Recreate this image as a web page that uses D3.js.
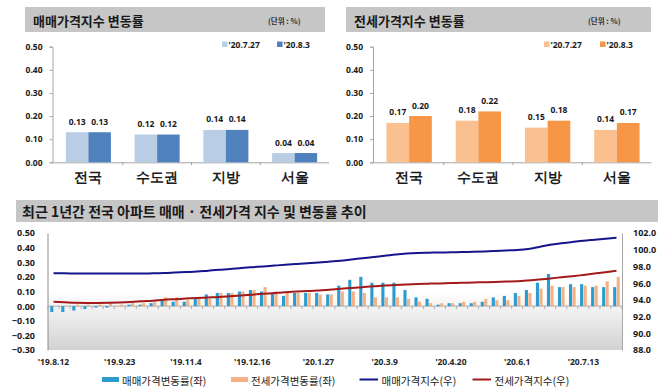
<!DOCTYPE html>
<html><head><meta charset="utf-8">
<script src="https://cdn.jsdelivr.net/npm/d3@7"></script>
<style>
body{margin:0;background:#fff;}
svg{display:block;font-family:"Noto Sans CJK KR","Noto Sans",sans-serif;}
</style></head><body>
<svg id="c" width="658" height="392"></svg>
<script>
// ---------- data ----------
const regions = ["전국","수도권","지방","서울"];
const seriesLabels = ["'20.7.27","'20.8.3"];
const saleRate0727 = [0.13,0.12,0.14,0.04];
const saleRate0803 = [0.13,0.12,0.14,0.04];
const jeonseRate0727 = [0.17,0.18,0.15,0.14];
const jeonseRate0803 = [0.20,0.22,0.18,0.17];
const topTicks = [0,0.1,0.2,0.3,0.4,0.5];

const weeks = ["'19.8.12","'19.8.19","'19.8.26","'19.9.2","'19.9.9","'19.9.16","'19.9.23","'19.9.30","'19.10.7","'19.10.14",
 "'19.10.21","'19.10.28","'19.11.4","'19.11.11","'19.11.18","'19.11.25","'19.12.2","'19.12.9","'19.12.16","'19.12.23",
 "'19.12.30","'20.1.6","'20.1.13","'20.1.20","'20.1.27","'20.2.3","'20.2.10","'20.2.17","'20.2.24","'20.3.2",
 "'20.3.9","'20.3.16","'20.3.23","'20.3.30","'20.4.6","'20.4.13","'20.4.20","'20.4.27","'20.5.4","'20.5.11",
 "'20.5.18","'20.5.25","'20.6.1","'20.6.8","'20.6.15","'20.6.22","'20.6.29","'20.7.6","'20.7.13","'20.7.20",
 "'20.7.27","'20.8.3"];
const weekTickLabels = ["'19.8.12","'19.9.23","'19.11.4","'19.12.16","'20.1.27","'20.3.9","'20.4.20","'20.6.1","'20.7.13"];
const saleWeekly = [-0.04,-0.04,-0.03,-0.02,-0.01,-0.01,0.00,0.01,0.01,0.02,
 0.04,0.03,0.03,0.05,0.08,0.09,0.09,0.10,0.11,0.10,
 0.09,0.07,0.09,0.09,0.09,0.08,0.14,0.18,0.20,0.16,
 0.16,0.16,0.11,0.06,0.05,0.01,0.02,0.02,0.02,0.03,
 0.06,0.07,0.09,0.11,0.16,0.22,0.13,0.15,0.15,0.13,
 0.13,0.13];
const jeonseWeekly = [0.00,0.00,0.01,0.01,0.01,0.02,0.01,0.02,0.02,0.03,
 0.06,0.06,0.04,0.05,0.05,0.09,0.09,0.10,0.11,0.13,
 0.10,0.10,0.09,0.09,0.08,0.08,0.10,0.10,0.09,0.06,
 0.06,0.06,0.05,0.03,0.02,0.02,0.02,0.03,0.03,0.05,
 0.04,0.04,0.07,0.09,0.12,0.14,0.13,0.13,0.14,0.14,
 0.17,0.20];
const saleIndex = [97.18,97.17,97.16,97.15,97.15,97.15,97.15,97.16,97.16,97.17,
 97.20,97.26,97.32,97.38,97.49,97.60,97.69,97.81,97.91,98.00,
 98.10,98.20,98.28,98.37,98.47,98.58,98.69,98.83,98.99,99.13,
 99.27,99.43,99.55,99.61,99.64,99.67,99.69,99.73,99.75,99.79,
 99.85,99.91,99.97,100.09,100.33,100.59,100.77,100.92,101.07,101.19,
 101.31,101.43];
const jeonseIndex = [93.77,93.71,93.65,93.63,93.63,93.65,93.69,93.75,93.83,93.90,
 94.01,94.08,94.15,94.22,94.28,94.34,94.43,94.52,94.62,94.72,
 94.81,94.91,94.99,95.06,95.13,95.22,95.33,95.42,95.52,95.62,
 95.71,95.78,95.85,95.90,95.94,95.97,96.01,96.04,96.08,96.11,
 96.15,96.19,96.23,96.32,96.43,96.56,96.70,96.83,96.98,97.14,
 97.31,97.49];
const leftTicks = [-0.3,-0.2,-0.1,0,0.1,0.2,0.3,0.4,0.5];
const rightTicks = [88,90,92,94,96,98,100,102];
const legendLabels = ["매매가격변동률(좌)","전세가격변동률(좌)","매매가격지수(우)","전세가격지수(우)"];

// ---------- drawing ----------
const svg = d3.select("#c");
const GRAY = "#c6c6c6";
const TXT = "#1a1a1a";

function topPanel(cfg){
  const g = svg.append("g");
  g.append("rect").attr("x",cfg.hx).attr("y",7).attr("width",cfg.hw).attr("height",25).attr("fill",GRAY);
  g.append("text").attr("x",cfg.hx+8).attr("y",25.5).attr("font-size",13).attr("font-weight",700)
    .attr("fill",TXT).text(cfg.title);
  g.append("text").attr("x",cfg.unitX).attr("y",23.5).attr("font-size",7.5).attr("font-weight",700)
    .attr("fill","#333").text("(단위 : %)");
  const y = d3.scaleLinear().domain([0,0.5]).range([162.3,46.7]);
  const x = d3.scaleBand().domain(regions).range(cfg.xr).paddingInner(0.345).paddingOuter(0.1725);
  const xs = d3.scaleBand().domain([0,1]).range([0,x.bandwidth()]);
  // y axis
  const ya = g.append("g").attr("transform",`translate(${cfg.xr[0]-1.5},0)`)
    .call(d3.axisLeft(y).tickValues(topTicks).tickFormat(d3.format(".2f")).tickSize(3).tickPadding(7));
  ya.selectAll("path,line").attr("stroke","#a6a6a6");
  ya.selectAll("text").attr("font-size",8.5).attr("font-weight",700).attr("fill",TXT).attr("font-family","Noto Sans, sans-serif");
  // x axis baseline + category ticks
  g.append("line").attr("x1",cfg.xr[0]-1.5).attr("x2",cfg.xr[1]).attr("y1",y(0)+0.5).attr("y2",y(0)+0.5).attr("stroke","#a6a6a6");
  regions.forEach((r,i)=>{
    if(i===0) return;
    const bx = x(r) - x.step()*x.paddingInner()/2;
    g.append("line").attr("x1",bx).attr("x2",bx).attr("y1",y(0)).attr("y2",y(0)+3).attr("stroke","#a6a6a6");
  });
  const xa = g.append("g").attr("transform",`translate(0,${y(0)})`)
    .call(d3.axisBottom(x).tickSize(0).tickPadding(10));
  xa.select(".domain").remove();
  xa.selectAll("text").attr("font-size",13.5).attr("font-weight",700).attr("fill",TXT);
  // bars
  const series = [cfg.a, cfg.b];
  series.forEach((vals,s)=>{
    g.selectAll(null).data(vals).enter().append("rect")
      .attr("x",(d,i)=>x(regions[i])+xs(s)).attr("width",xs.bandwidth())
      .attr("y",d=>y(d)).attr("height",d=>y(0)-y(d)).attr("fill",cfg.colors[s]);
    g.selectAll(null).data(vals).enter().append("text")
      .attr("x",(d,i)=>x(regions[i])+xs(s)+xs.bandwidth()/2).attr("y",d=>y(d)-7.5)
      .attr("text-anchor","middle").attr("font-size",8.5).attr("font-weight",700).attr("fill",TXT)
      .attr("font-family","Noto Sans, sans-serif")
      .text(d=>d3.format(".2f")(d));
  });
  // legend
  seriesLabels.forEach((lab,s)=>{
    const lx = cfg.legX[s];
    g.append("rect").attr("x",lx).attr("y",41.5).attr("width",5.5).attr("height",5.5).attr("fill",cfg.colors[s]);
    g.append("text").attr("x",lx+6.5).attr("y",47.5).attr("font-size",8.5).attr("font-weight",700)
      .attr("fill",TXT).attr("font-family","Noto Sans, sans-serif").text(lab);
  });
}

topPanel({title:"매매가격지수 변동률",hx:25,hw:300,unitX:268,xr:[54,329],a:saleRate0727,b:saleRate0803,
  colors:["#b9cde5","#4f81bd"],legX:[222,277]});
topPanel({title:"전세가격지수 변동률",hx:346,hw:305,unitX:588,xr:[374.5,651.5],a:jeonseRate0727,b:jeonseRate0803,
  colors:["#fac090","#f79646"],legX:[544,600]});

// ---------- bottom chart ----------
const B = {l:48,r:622,t:233,b:350};
svg.append("rect").attr("x",16).attr("y",200).attr("width",642).attr("height",22).attr("fill",GRAY);
svg.append("text").attr("x",22).attr("y",216.5).attr("font-size",14).attr("font-weight",700).attr("fill",TXT)
  .text("최근 1년간 전국 아파트 매매 · 전세가격 지수 및 변동률 추이");

const defs = svg.append("defs");
const grad = defs.append("linearGradient").attr("id","bg").attr("x1",0).attr("y1",0).attr("x2",0).attr("y2",1);
grad.append("stop").attr("offset","0%").attr("stop-color","#ffffff");
grad.append("stop").attr("offset","50%").attr("stop-color","#ffffff");
grad.append("stop").attr("offset","100%").attr("stop-color","#d2d2d2");
svg.append("rect").attr("x",B.l).attr("y",B.t).attr("width",B.r-B.l).attr("height",B.b-B.t).attr("fill","url(#bg)");

const xw = d3.scaleBand().domain(weeks).range([B.l,B.r]).paddingInner(0.4).paddingOuter(0.2);
const xsub = d3.scaleBand().domain(["s","j"]).range([0,xw.bandwidth()]).paddingInner(0.12);
const yL = d3.scaleLinear().domain([-0.3,0.5]).range([B.b,B.t]);
const yR = d3.scaleLinear().domain([88,102]).range([B.b,B.t]);

// axes
const la = svg.append("g").attr("transform",`translate(${B.l-0.5},0)`)
  .call(d3.axisLeft(yL).tickValues(leftTicks).tickFormat(d3.format(".2f")).tickSize(0).tickPadding(12.5));
la.select(".domain").attr("stroke","#8c8c8c");
la.selectAll("text").attr("font-size",9).attr("font-weight",700).attr("fill",TXT).attr("font-family","Noto Sans, sans-serif");
const ra = svg.append("g").attr("transform",`translate(${B.r},0)`)
  .call(d3.axisRight(yR).tickValues(rightTicks).tickFormat(d3.format(".1f")).tickSize(0).tickPadding(11));
ra.select(".domain").attr("stroke","#a6a6a6");
ra.selectAll("text").attr("font-size",9).attr("font-weight",700).attr("fill",TXT).attr("font-family","Noto Sans, sans-serif");

// zero line with ticks
svg.append("line").attr("x1",B.l).attr("x2",B.r).attr("y1",yL(0)).attr("y2",yL(0)).attr("stroke","#a0a0a0").attr("stroke-width",0.8);
const gap = (xw.step()-xw.bandwidth())/2;
svg.selectAll(null).data(weeks.concat(["__end"])).enter().append("line")
  .attr("x1",(d,i)=> i<weeks.length ? xw(d)-gap : B.r)
  .attr("x2",(d,i)=> i<weeks.length ? xw(d)-gap : B.r)
  .attr("y1",yL(0)).attr("y2",yL(0)+3).attr("stroke","#a0a0a0").attr("stroke-width",0.8);

// x labels
const xa = svg.append("g").attr("transform",`translate(0,${B.b})`)
  .call(d3.axisBottom(xw).tickValues(weekTickLabels).tickSize(0).tickPadding(9));
xa.select(".domain").remove();
xa.selectAll("text").attr("font-size",8.5).attr("font-weight",700).attr("fill","#262626").attr("font-family","Noto Sans, sans-serif");

// bars
const BLUE = "#2b9bd0", ORANGE = "#f4b183";
svg.selectAll(null).data(saleWeekly).enter().append("rect")
  .attr("x",(d,i)=>xw(weeks[i])+xsub("s")).attr("width",xsub.bandwidth())
  .attr("y",d=>yL(Math.max(0,d))).attr("height",d=>Math.abs(yL(d)-yL(0))).attr("fill",BLUE);
svg.selectAll(null).data(jeonseWeekly).enter().append("rect")
  .attr("x",(d,i)=>xw(weeks[i])+xsub("j")).attr("width",xsub.bandwidth())
  .attr("y",d=>yL(Math.max(0,d))).attr("height",d=>Math.abs(yL(d)-yL(0))).attr("fill",ORANGE);

// lines
const cx = (d,i)=>xw(weeks[i])+xw.bandwidth()/2;
const NAVY = "#15158c", RED = "#a31a1a";
svg.append("path").datum(saleIndex).attr("fill","none").attr("stroke",NAVY).attr("stroke-width",2)
  .attr("d",d3.line().x(cx).y(d=>yR(d)).curve(d3.curveMonotoneX));
svg.append("path").datum(jeonseIndex).attr("fill","none").attr("stroke",RED).attr("stroke-width",2)
  .attr("d",d3.line().x(cx).y(d=>yR(d)).curve(d3.curveMonotoneX));

// legend
const legX = [102,231,359.5,472.5];
const legColors = [BLUE,ORANGE,NAVY,RED];
legendLabels.forEach((lab,k)=>{
  const lx = legX[k];
  if(k<2){
    svg.append("rect").attr("x",lx).attr("y",377).attr("width",17).attr("height",5).attr("fill",legColors[k]);
  } else {
    svg.append("line").attr("x1",lx).attr("x2",lx+18.5).attr("y1",379.5).attr("y2",379.5)
      .attr("stroke",legColors[k]).attr("stroke-width",2);
  }
  svg.append("text").attr("x",lx+(k<2?20:22)).attr("y",384.5).attr("font-size",10.5).attr("fill","#222").text(lab);
});
</script>
</body></html>
